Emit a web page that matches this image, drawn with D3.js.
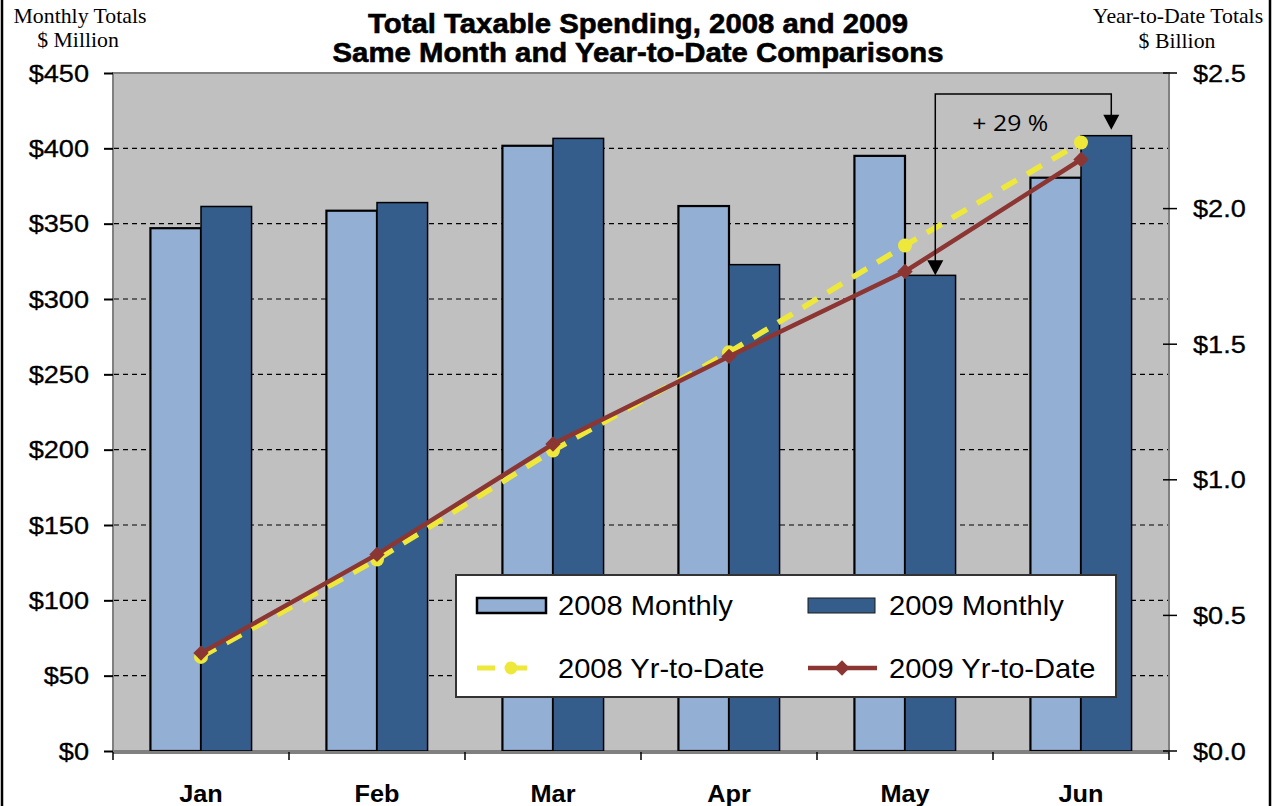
<!DOCTYPE html>
<html><head><meta charset="utf-8">
<script src="https://cdn.jsdelivr.net/npm/d3@7"></script>
<style>html,body{margin:0;padding:0;background:#fff;}svg{display:block;}</style>
</head><body>
<svg id="chart" width="1276" height="806"></svg>
<script>
const months = ["Jan","Feb","Mar","Apr","May","Jun"];
const seriesNames = ["2008 Monthly","2009 Monthly"];
const monthly2008 = [347, 358.6, 401.7, 361.7, 395, 380.5];
const monthly2009 = [361.4, 364, 406.6, 322.8, 315.7, 408.4];
const ytd2008 = [0.347, 0.706, 1.108, 1.470, 1.864, 2.244];
const ytd2009 = [0.361, 0.725, 1.132, 1.455, 1.768, 2.181];
const leftTicks = [0,50,100,150,200,250,300,350,400,450];
const rightTicks = [0,0.5,1.0,1.5,2.0,2.5];
const gridValues = [50,100,150,200,250,300,350,400];
const titleLines = ["Total Taxable Spending, 2008 and 2009","Same Month and Year-to-Date Comparisons"];
const annotationText = "+ 29 %";
const annotationLevel = 436;

const svg = d3.select("#chart");
const L = 113, R = 1169, T = 73, B = 751;
const c08 = "#93afd4", c09 = "#345d8c", cY = "#eee83a", cR = "#8c3634";

const x0 = d3.scaleBand().domain(months).range([L, R]).paddingInner(0).paddingOuter(0);
const x1 = d3.scaleBand().domain(seriesNames).range([0, x0.bandwidth()]).paddingInner(0).paddingOuter(0.74);
const yL = d3.scaleLinear().domain([0,450]).range([B, T]);
const yR = d3.scaleLinear().domain([0,2.5]).range([B, T]);

// side borders
svg.append("line").attr("x1",2).attr("x2",2).attr("y1",0).attr("y2",806).attr("stroke","#000").attr("stroke-width",2.5);
svg.append("line").attr("x1",1270).attr("x2",1270).attr("y1",0).attr("y2",806).attr("stroke","#000").attr("stroke-width",2.5);

// plot area
svg.append("rect").attr("x",L).attr("y",T).attr("width",R-L).attr("height",B-T)
  .attr("fill","#c0c0c0").attr("stroke","#808080").attr("stroke-width",2);

// gridlines
svg.append("g").selectAll("line").data(gridValues).join("line")
  .attr("x1",L+1).attr("x2",R-1).attr("y1",d=>yL(d)).attr("y2",d=>yL(d))
  .attr("stroke","#000").attr("stroke-width",1.1).attr("stroke-dasharray","5,4");

// bars
const barData = months.flatMap((m,i)=>[
  {m, s:seriesNames[0], v:monthly2008[i]},
  {m, s:seriesNames[1], v:monthly2009[i]}
]);
svg.append("g").selectAll("rect").data(barData).join("rect")
  .attr("x",d=>x0(d.m)+x1(d.s)).attr("width",x1.bandwidth())
  .attr("y",d=>yL(d.v)).attr("height",d=>B-yL(d.v))
  .attr("fill",d=>d.s===seriesNames[0]?c08:c09)
  .attr("stroke","#000").attr("stroke-width",d=>d.s===seriesNames[0]?2.2:1.5);

// bottom axis
svg.append("line").attr("x1",L).attr("x2",R).attr("y1",B+1.5).attr("y2",B+1.5).attr("stroke","#808080").attr("stroke-width",3);
const xAxis = d3.axisBottom(x0).tickSize(0).tickPadding(0);
const gx = svg.append("g").attr("transform",`translate(0,${B})`).call(xAxis);
gx.select(".domain").remove();
gx.selectAll("text").attr("y",0).attr("dy",null)
  .attr("transform","translate(0,51) scale(1.1,1)")
  .attr("font-family","'Liberation Sans',Arial,sans-serif").attr("font-weight","bold")
  .attr("font-size",23).attr("fill","#000");
const bounds = months.map(m=>x0(m)).concat([x0(months[months.length-1])+x0.bandwidth()]);
svg.append("g").selectAll("line").data(bounds).join("line")
  .attr("x1",d=>d).attr("x2",d=>d).attr("y1",B+1).attr("y2",B+9)
  .attr("stroke","#000").attr("stroke-width",1.5);

// lines
const cx = m => x0(m)+x0.bandwidth()/2;
const lineGen = (arr)=> d3.line().x((d,i)=>cx(months[i])).y(d=>yR(d))(arr);
svg.append("path").attr("d",lineGen(ytd2008)).attr("fill","none").attr("stroke",cY)
  .attr("stroke-width",5.5).attr("stroke-dasharray","17,12");
svg.append("g").selectAll("circle").data(ytd2008).join("circle")
  .attr("cx",(d,i)=>cx(months[i])).attr("cy",d=>yR(d)).attr("r",7).attr("fill",cY);
svg.append("path").attr("d",lineGen(ytd2009)).attr("fill","none").attr("stroke",cR).attr("stroke-width",4.5);
const diamond = d3.symbol().type(d3.symbolDiamond2).size(150);
svg.append("g").selectAll("path").data(ytd2009).join("path")
  .attr("d",diamond).attr("transform",(d,i)=>`translate(${cx(months[i])},${yR(d)})`).attr("fill",cR);

// annotation
const ax1 = x0("May")+x1(seriesNames[1])+x1.bandwidth()/2+5;
const ax2 = x0("Jun")+x1(seriesNames[1])+x1.bandwidth()/2+5;
const ay = yL(annotationLevel);
const tip1 = yL(monthly2009[4]);
const tip2 = yL(monthly2009[5])-6;
svg.append("path").attr("d",`M${ax1},${tip1-14}V${ay}H${ax2}V${tip2-14}`)
  .attr("fill","none").attr("stroke","#000").attr("stroke-width",1.5);
[[ax1,tip1],[ax2,tip2]].forEach(([x,y])=>{
  svg.append("path").attr("d",`M${x-8},${y-15}L${x+8},${y-15}L${x},${y}Z`).attr("fill","#000");
});
svg.append("text").attr("transform",`translate(${(ax1+ax2)/2-13},131) scale(1.18,1)`)
  .attr("text-anchor","middle").attr("font-family","'Open Sans',sans-serif").attr("font-size",21)
  .attr("fill","#000").text(annotationText);

// left axis
const gl = svg.append("g").attr("transform",`translate(${L},0)`)
  .call(d3.axisLeft(yL).tickValues(leftTicks).tickSize(9).tickFormat(d=>"$"+d));
gl.select(".domain").remove();
gl.selectAll(".tick line").attr("stroke","#000").attr("stroke-width",2);
gl.selectAll(".tick text").attr("x",0).attr("dy",null).attr("y",0)
  .attr("transform","translate(-24,8) scale(1.18,1)")
  .attr("font-family","'Liberation Sans',Arial,sans-serif").attr("font-size",23).attr("fill","#000")
  .attr("stroke","#000").attr("stroke-width",0.3);

// right axis
const gr = svg.append("g").attr("transform",`translate(${R+7},0)`)
  .call(d3.axisRight(yR).tickValues(rightTicks).tickSize(0).tickFormat(d=>"$"+d3.format(".1f")(d)));
gr.select(".domain").remove();
gr.selectAll(".tick text").attr("x",0).attr("dy",null).attr("y",0)
  .attr("transform","translate(17,8) scale(1.18,1)")
  .attr("font-family","'Liberation Sans',Arial,sans-serif").attr("font-size",23).attr("fill","#000")
  .attr("stroke","#000").attr("stroke-width",0.3);
svg.append("g").selectAll("line").data(rightTicks).join("line")
  .attr("x1",R-6).attr("x2",R+8).attr("y1",d=>yR(d)).attr("y2",d=>yR(d))
  .attr("stroke","#000").attr("stroke-width",1.5);

// axis titles
const serif = "'Liberation Serif','Times New Roman',serif";
[["Monthly Totals",80,23],["$ Million",78,47],["Year-to-Date Totals",1178,23],["$ Billion",1177,48]].forEach(([t,x,y])=>{
  svg.append("text").attr("transform",`translate(${x},${y}) scale(1.09,1)`).attr("text-anchor","middle")
    .attr("font-family",serif).attr("font-size",20).attr("fill","#000").text(t);
});

// title
svg.append("text").attr("x",638).attr("y",33).attr("text-anchor","middle")
  .attr("font-family","'Liberation Sans',Arial,sans-serif").attr("font-weight","bold").attr("font-size",28)
  .attr("stroke","#000").attr("stroke-width",0.6)
  .attr("textLength",540).attr("lengthAdjust","spacingAndGlyphs").text(titleLines[0]);
svg.append("text").attr("x",638).attr("y",62).attr("text-anchor","middle")
  .attr("font-family","'Liberation Sans',Arial,sans-serif").attr("font-weight","bold").attr("font-size",28)
  .attr("stroke","#000").attr("stroke-width",0.6)
  .attr("textLength",611).attr("lengthAdjust","spacingAndGlyphs").text(titleLines[1]);

// legend
const lg = svg.append("g");
lg.append("rect").attr("x",456).attr("y",575).attr("width",660).attr("height",122)
  .attr("fill","#fff").attr("stroke","#333").attr("stroke-width",2);
const lf = "'Liberation Sans',Arial,sans-serif";
lg.append("rect").attr("x",477).attr("y",598).attr("width",69).attr("height",15).attr("fill",c08).attr("stroke","#000").attr("stroke-width",2.5);
lg.append("rect").attr("x",808).attr("y",598).attr("width",67).attr("height",15).attr("fill",c09).attr("stroke","#1a1a1a").attr("stroke-width",1);
lg.append("line").attr("x1",477).attr("x2",531).attr("y1",668).attr("y2",668).attr("stroke",cY).attr("stroke-width",5).attr("stroke-dasharray","18,14");
lg.append("circle").attr("cx",511).attr("cy",668).attr("r",6.5).attr("fill",cY);
lg.append("line").attr("x1",808).attr("x2",877).attr("y1",668).attr("y2",668).attr("stroke",cR).attr("stroke-width",4.5);
lg.append("path").attr("d",diamond).attr("transform","translate(842,668)").attr("fill",cR);
[["2008 Monthly",558,615],[ "2009 Monthly",889,615],["2008 Yr-to-Date",558,678],["2009 Yr-to-Date",889,678]].forEach(([t,x,y])=>{
  lg.append("text").attr("transform",`translate(${x},${y}) scale(1.04,1)`).attr("font-family",lf).attr("font-size",28).attr("fill","#000").text(t);
});
</script>
</body></html>
